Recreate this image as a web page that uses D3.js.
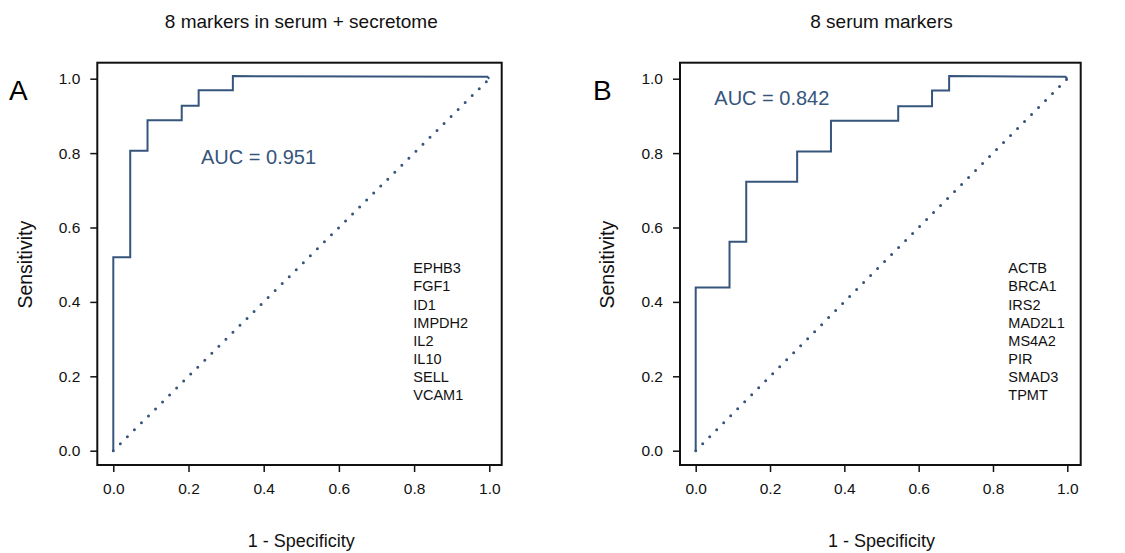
<!DOCTYPE html>
<html>
<head>
<meta charset="utf-8">
<script src="https://cdn.jsdelivr.net/npm/d3@7"></script>
<style>
  body { margin: 0; background: #fff; }
  svg { display: block; font-family: "Liberation Sans", Arial, sans-serif; }
</style>
</head>
<body>
<svg id="chart" width="1125" height="553"></svg>
<script>
// ROC vertices (1 - specificity, sensitivity)
const fprA = [0, 0, 0.045, 0.045, 0.091, 0.091, 0.182, 0.182, 0.227, 0.227, 0.318, 0.318, 0.995, 1.0];
const tprA = [0, 0.52, 0.52, 0.806, 0.806, 0.888, 0.888, 0.927, 0.927, 0.969, 0.969, 1.007, 1.005, 1.0];
const genesA = ["EPHB3", "FGF1", "ID1", "IMPDH2", "IL2", "IL10", "SELL", "VCAM1"];

const fprB = [0, 0, 0.091, 0.091, 0.136, 0.136, 0.273, 0.273, 0.364, 0.364, 0.545, 0.545, 0.636, 0.636, 0.682, 0.682, 0.995, 1.0];
const tprB = [0, 0.439, 0.439, 0.562, 0.562, 0.723, 0.723, 0.804, 0.804, 0.887, 0.887, 0.926, 0.926, 0.968, 0.968, 1.007, 1.005, 1.0];
const genesB = ["ACTB", "BRCA1", "IRS2", "MAD2L1", "MS4A2", "PIR", "SMAD3", "TPMT"];

const ticks = [0, 0.2, 0.4, 0.6, 0.8, 1.0];
const diagonal = [0, 1];

const blue = "#36557c";
const ink = "#111";

const svg = d3.select("#chart");

const panels = [
  {
    letter: "A", title: "8 markers in serum + secretome", auc: "AUC = 0.951",
    fpr: fprA, tpr: tprA, genes: genesA,
    frame: [97.3, 62.7, 501.7, 465], xRange: [113.3, 489.3],
    aucPos: [201, 164.3], genePos: [413.3, 273.3], letterPos: [9, 100], ylabX: 32
  },
  {
    letter: "B", title: "8 serum markers", auc: "AUC = 0.842",
    fpr: fprB, tpr: tprB, genes: genesB,
    frame: [680, 62.7, 1080.7, 465], xRange: [695.7, 1067.3],
    aucPos: [714.3, 105], genePos: [1008.3, 273.3], letterPos: [593, 100], ylabX: 614
  }
];

function drawPanel(p) {
  const [x0, y0, x1, y1] = p.frame;
  const x = d3.scaleLinear().domain([0, 1]).range(p.xRange);
  const y = d3.scaleLinear().domain([0, 1]).range([450.7, 78.7]);
  const g = svg.append("g");

  // x axis
  const xAxis = g.append("g")
    .attr("transform", `translate(0,${y1})`)
    .call(d3.axisBottom(x).tickValues(ticks).tickFormat(d3.format(".1f")).tickSize(7).tickPadding(11));
  xAxis.select(".domain").remove();

  // y axis
  const yAxis = g.append("g")
    .attr("transform", `translate(${x0},0)`)
    .call(d3.axisLeft(y).tickValues(ticks).tickFormat(d3.format(".1f")).tickSize(7).tickPadding(10));
  yAxis.select(".domain").remove();

  g.selectAll(".tick line").attr("stroke", ink).attr("stroke-width", 1.5);
  g.selectAll(".tick text")
    .attr("fill", ink)
    .style("font-size", "15.5px")
    .style("font-family", "'Liberation Sans', Arial, sans-serif");

  // frame
  g.append("rect")
    .attr("x", x0)
    .attr("y", y0)
    .attr("width", x1 - x0)
    .attr("height", y1 - y0)
    .attr("fill", "none")
    .attr("stroke", ink)
    .attr("stroke-width", 2);

  // chance line
  g.append("path")
    .datum(diagonal)
    .attr("d", d3.line().x((d) => x(d)).y((d) => y(d)))
    .attr("fill", "none")
    .attr("stroke", blue)
    .attr("stroke-width", 3)
    .attr("stroke-linecap", "round")
    .attr("stroke-dasharray", "0 9.9");

  // ROC curve
  const pts = p.fpr.map((f, i) => [f, p.tpr[i]]);
  g.append("path")
    .datum(pts)
    .attr("d", d3.line().x((d) => x(d[0])).y((d) => y(d[1])))
    .attr("fill", "none")
    .attr("stroke", blue)
    .attr("stroke-width", 2);

  g.append("text")
    .attr("x", p.aucPos[0])
    .attr("y", p.aucPos[1])
    .attr("fill", blue)
    .style("font-size", "20px")
    .text(p.auc);

  g.selectAll(".gene")
    .data(p.genes)
    .join("text")
    .attr("class", "gene")
    .attr("x", p.genePos[0])
    .attr("y", (d, i) => p.genePos[1] + i * 18.1)
    .attr("fill", ink)
    .style("font-size", "14.5px")
    .text((d) => d);

  const cx = (p.xRange[0] + p.xRange[1]) / 2;

  g.append("text")
    .attr("x", cx)
    .attr("y", 28)
    .attr("text-anchor", "middle")
    .attr("fill", ink)
    .style("font-size", "19px")
    .text(p.title);

  g.append("text")
    .attr("x", cx)
    .attr("y", 546.7)
    .attr("text-anchor", "middle")
    .attr("fill", ink)
    .style("font-size", "18px")
    .text("1 - Specificity");

  g.append("text")
    .attr("transform", `translate(${p.ylabX},${(y(0) + y(1)) / 2}) rotate(-90)`)
    .attr("text-anchor", "middle")
    .attr("fill", ink)
    .style("font-size", "19.5px")
    .text("Sensitivity");

  g.append("text")
    .attr("x", p.letterPos[0])
    .attr("y", p.letterPos[1])
    .attr("fill", "#000")
    .style("font-size", "28px")
    .text(p.letter);
}

panels.forEach(drawPanel);
</script>
</body>
</html>
